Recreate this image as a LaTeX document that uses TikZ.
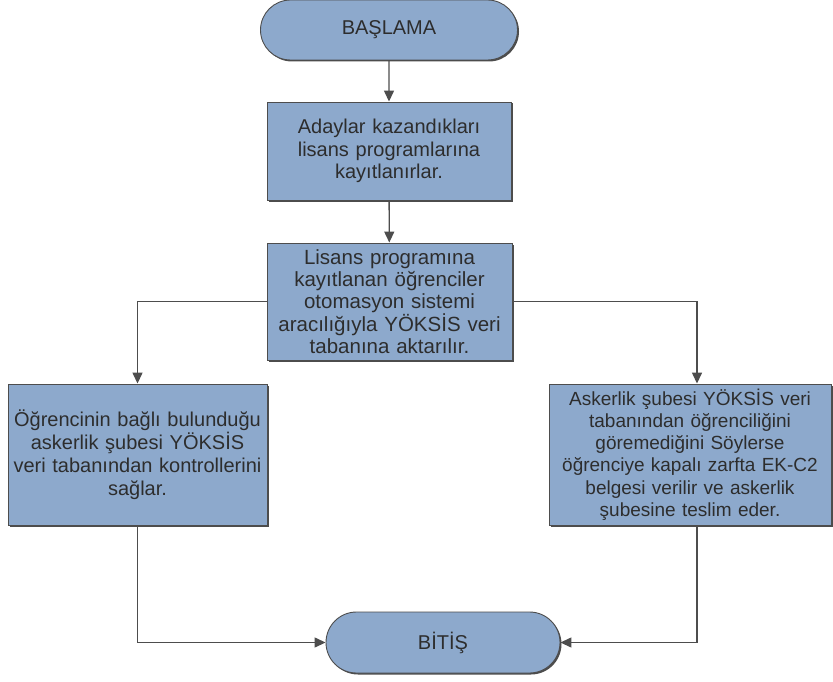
\documentclass[tikz,border=0pt]{standalone}
\usepackage{fontspec}
\setmainfont{Liberation Sans}
\usetikzlibrary{shapes.misc,shadows,arrows.meta}

\definecolor{boxblue}{RGB}{141,169,204}
\definecolor{edgegray}{RGB}{77,77,77}
\definecolor{txtgray}{RGB}{45,45,45}

\tikzset{
  base/.style={draw=edgegray, line width=0.9pt, fill=boxblue, text=txtgray,
    align=center, font=\fontsize{20}{22.5}\selectfont,
    drop shadow={shadow xshift=1.5pt, shadow yshift=-1.5pt, opacity=0.7, fill=black}},
  terminal/.style={base, rounded rectangle, inner sep=0pt},
  process/.style={base, rectangle, inner xsep=2pt, inner ysep=0pt},
  flow/.style={draw=edgegray, line width=1.4pt, -{Triangle[length=11pt,width=10pt]}},
}

\begin{document}
\begin{tikzpicture}[x=1pt,y=-1pt]
  \useasboundingbox (0,0) rectangle (833,682);

  % start and end
  \node [terminal, minimum width=257pt, minimum height=60pt] (basla) at (389,30) {BAŞLAMA};
  \node [terminal, minimum width=234pt, minimum height=61pt] (bitis) at (443,642.5) {BİTİŞ};

  % steps
  \node [process, text width=240pt, minimum height=98pt] (kayit) at (389,151)
    {Adaylar kazandıkları\\lisans programlarına\\kayıtlanırlar.};
  \node [process, text width=241pt, minimum height=117pt,
    font=\fontsize{20.5}{21.8}\selectfont] (aktar) at (389.5,301.5)
    {Lisans programına\\kayıtlanan öğrenciler\\otomasyon sistemi\\aracılığıyla YÖKSİS veri\\tabanına aktarılır.};
  \node [process, text width=255pt, minimum height=141pt,
    font=\fontsize{20}{23}\selectfont] (kontrol) at (137.5,454.5)
    {Öğrencinin bağlı bulunduğu\\askerlik şubesi YÖKSİS\\veri tabanından kontrollerini\\sağlar.};
  \node [process, text width=278pt, minimum height=141pt,
    font=\fontsize{19}{22.2}\selectfont] (teslim) at (690,454.5)
    {Askerlik şubesi YÖKSİS veri\\tabanından öğrenciliğini\\göremediğini Söylerse\\öğrenciye kapalı zarfta EK-C2\\belgesi verilir ve askerlik\\şubesine teslim eder.};

  % connectors
  \draw [flow] (basla) -- (kayit);
  \draw [flow] (kayit) -- (aktar);
  \draw [flow] (aktar.west) -| (kontrol.north);
  \draw [flow] (aktar.east) -| ([xshift=7pt]teslim.north);
  \draw [flow] (kontrol.south) |- (bitis.west);
  \draw [flow] ([xshift=7pt]teslim.south) |- (bitis.east);
\end{tikzpicture}
\end{document}
